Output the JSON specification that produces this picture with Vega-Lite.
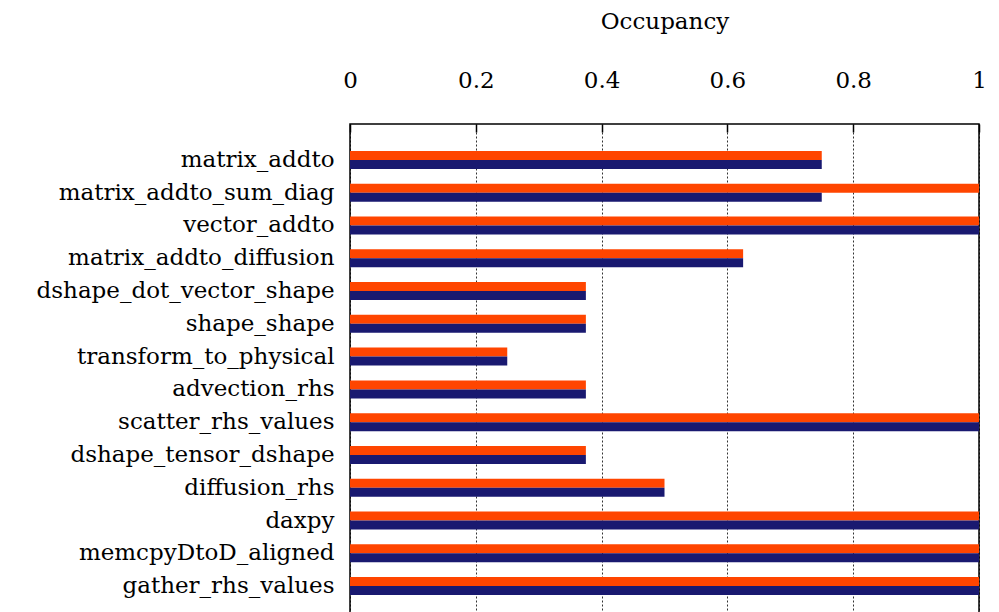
{
  "$schema": "https://vega.github.io/schema/vega-lite/v6.json",
  "width": 629,
  "height": 498,
  "autosize": "none",
  "padding": {"left": 350, "top": 124, "right": 20, "bottom": 0},
  "config": {
    "view": {"stroke": "black", "strokeWidth": 1.5},
    "font": "DejaVu Serif"
  },
  "data": {
    "values": [
      {"kernel": "matrix_addto", "series": "theoretical", "occupancy": 0.75},
      {"kernel": "matrix_addto", "series": "achieved", "occupancy": 0.75},
      {"kernel": "matrix_addto_sum_diag", "series": "theoretical", "occupancy": 1.0},
      {"kernel": "matrix_addto_sum_diag", "series": "achieved", "occupancy": 0.75},
      {"kernel": "vector_addto", "series": "theoretical", "occupancy": 1.0},
      {"kernel": "vector_addto", "series": "achieved", "occupancy": 1.0},
      {"kernel": "matrix_addto_diffusion", "series": "theoretical", "occupancy": 0.625},
      {"kernel": "matrix_addto_diffusion", "series": "achieved", "occupancy": 0.625},
      {"kernel": "dshape_dot_vector_shape", "series": "theoretical", "occupancy": 0.375},
      {"kernel": "dshape_dot_vector_shape", "series": "achieved", "occupancy": 0.375},
      {"kernel": "shape_shape", "series": "theoretical", "occupancy": 0.375},
      {"kernel": "shape_shape", "series": "achieved", "occupancy": 0.375},
      {"kernel": "transform_to_physical", "series": "theoretical", "occupancy": 0.25},
      {"kernel": "transform_to_physical", "series": "achieved", "occupancy": 0.25},
      {"kernel": "advection_rhs", "series": "theoretical", "occupancy": 0.375},
      {"kernel": "advection_rhs", "series": "achieved", "occupancy": 0.375},
      {"kernel": "scatter_rhs_values", "series": "theoretical", "occupancy": 1.0},
      {"kernel": "scatter_rhs_values", "series": "achieved", "occupancy": 1.0},
      {"kernel": "dshape_tensor_dshape", "series": "theoretical", "occupancy": 0.375},
      {"kernel": "dshape_tensor_dshape", "series": "achieved", "occupancy": 0.375},
      {"kernel": "diffusion_rhs", "series": "theoretical", "occupancy": 0.5},
      {"kernel": "diffusion_rhs", "series": "achieved", "occupancy": 0.5},
      {"kernel": "daxpy", "series": "theoretical", "occupancy": 1.0},
      {"kernel": "daxpy", "series": "achieved", "occupancy": 1.0},
      {"kernel": "memcpyDtoD_aligned", "series": "theoretical", "occupancy": 1.0},
      {"kernel": "memcpyDtoD_aligned", "series": "achieved", "occupancy": 1.0},
      {"kernel": "gather_rhs_values", "series": "theoretical", "occupancy": 1.0},
      {"kernel": "gather_rhs_values", "series": "achieved", "occupancy": 1.0}
    ]
  },
  "mark": {"type": "bar", "cornerRadius": 0},
  "encoding": {
    "y": {
      "field": "kernel",
      "type": "nominal",
      "sort": null,
      "scale": {"paddingInner": 0.45, "paddingOuter": 0.82},
      "axis": {
        "title": null,
        "ticks": false,
        "domain": false,
        "labelFontSize": 23,
        "labelPadding": 16,
        "labelColor": "black",
        "labelLimit": 400
      }
    },
    "yOffset": {
      "field": "series",
      "type": "nominal",
      "sort": ["theoretical", "achieved"]
    },
    "x": {
      "field": "occupancy",
      "type": "quantitative",
      "scale": {"domain": [0, 1], "nice": false},
      "axis": {
        "orient": "top",
        "title": "Occupancy",
        "titleFontSize": 23,
        "titleFontWeight": "normal",
        "titleColor": "black",
        "titlePadding": 36,
        "values": [0, 0.2, 0.4, 0.6, 0.8, 1],
        "format": "~g",
        "labelFontSize": 23,
        "labelColor": "black",
        "labelPadding": 40,
        "labelFlush": false,
        "domain": false,
        "tickSize": -8,
        "tickColor": "black",
        "tickWidth": 1.5,
        "grid": true,
        "gridColor": "black",
        "gridDash": [2, 2],
        "gridWidth": 1,
        "gridOpacity": 0.8
      }
    },
    "color": {
      "field": "series",
      "type": "nominal",
      "scale": {"domain": ["theoretical", "achieved"], "range": ["#FF4500", "#191970"]},
      "legend": null
    }
  }
}
